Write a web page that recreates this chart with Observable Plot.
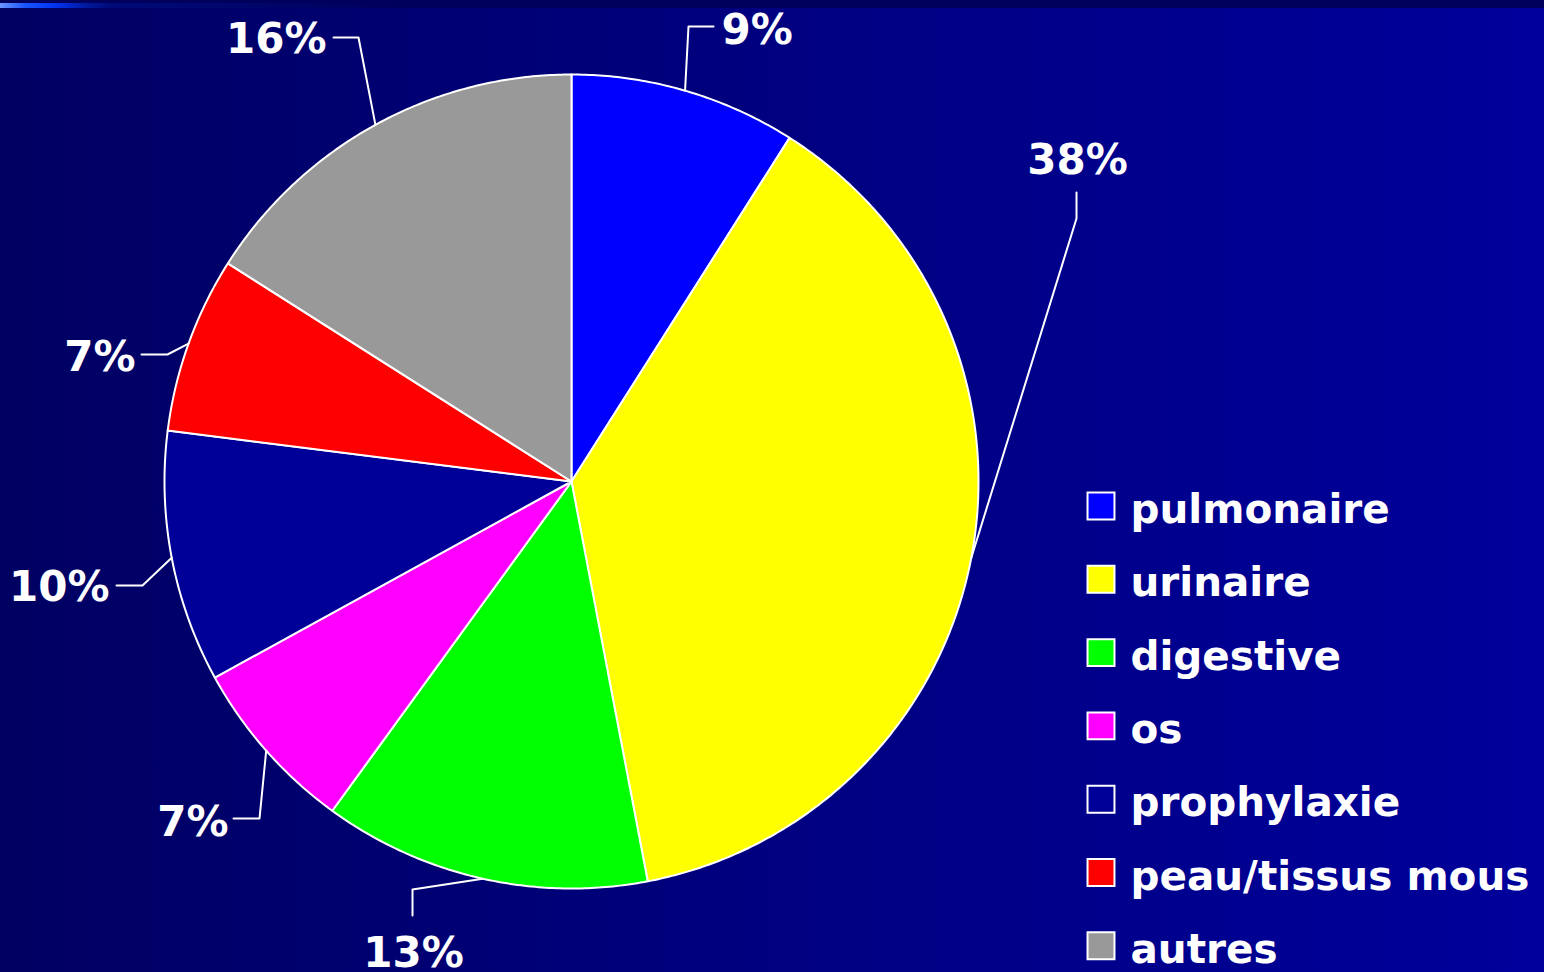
<!DOCTYPE html>
<html>
<head>
<meta charset="utf-8">
<script src="https://cdn.jsdelivr.net/npm/d3@7"></script>
<script src="https://cdn.jsdelivr.net/npm/@observablehq/plot@0.6"></script>
<style>
  html, body { margin: 0; padding: 0; }
  #frame {
    position: relative; width: 1544px; height: 972px; overflow: hidden;
    background: linear-gradient(to right, #000062 0%, #000080 50%, #00009b 100%);
  }
  #topbar {
    position: absolute; left: 0; top: 0; width: 1544px; height: 8px;
    background: #00005c;
  }
  #topbar-hi {
    position: absolute; left: 0; top: 3px; width: 1544px; height: 5px;
    background: linear-gradient(to right, #6a94ff 0px, #1a55ff 25px, #0033f0 55px, #001aa0 85px, #000a78 110px, #00005c 400px);
  }
  #chart { position: absolute; left: 0; top: 0; }
</style>
</head>
<body>
<div id="frame">
  <div id="chart"></div>
  <div id="topbar"></div>
  <div id="topbar-hi"></div>
</div>
<script>
// ---- data ----
const categories = ["pulmonaire", "urinaire", "digestive", "os", "prophylaxie", "peau/tissus mous", "autres"];
const values = [9, 38, 13, 7, 10, 7, 16];
const colors = ["#0000ff", "#ffff00", "#00ff00", "#ff00ff", "#000099", "#ff0000", "#999999"];
const labels = values.map(v => v + "%");

// ---- layout (pixels) ----
const W = 1544, H = 972;
const pie = {cx: 571, cy: 481, r: 407};
const leaderLayout = [
  {elbow: [688, 26],  end: [713, 26],  text: [721, 43],  anchor: "start"},
  {elbow: [1076, 218], end: [1076, 192], text: [1077, 173], anchor: "middle"},
  {elbow: [412, 889], end: [412, 915], text: [413, 966], anchor: "middle"},
  {elbow: [259, 818], end: [233, 818], text: [228, 835], anchor: "end"},
  {elbow: [142, 585], end: [116, 585], text: [109, 600], anchor: "end"},
  {elbow: [167, 354], end: [141, 354], text: [135, 370], anchor: "end"},
  {elbow: [358, 37],  end: [333, 37],  text: [326, 52],  anchor: "end"}
];
const legend = {x: 1100.5, y0: 505.5, dy: 73.3, textX: 1130, baseOff: 17};
const FONT = "'DejaVu Sans', Verdana, sans-serif";

// ---- derived ----
const arcs = d3.pie().sort(null).value(d => d)(values);
const pt = a => [pie.cx + pie.r * Math.sin(a), pie.cy - pie.r * Math.cos(a)];

const slicePts = [];
arcs.forEach((a, i) => {
  const n = Math.max(2, Math.ceil((a.endAngle - a.startAngle) / (Math.PI / 360)));
  slicePts.push({cat: categories[i], color: colors[i], x: pie.cx, y: pie.cy});
  for (let k = 0; k <= n; k++) {
    const t = a.startAngle + (a.endAngle - a.startAngle) * k / n;
    const [x, y] = pt(t);
    slicePts.push({cat: categories[i], color: colors[i], x, y});
  }
  slicePts.push({cat: categories[i], color: colors[i], x: pie.cx, y: pie.cy});
});

const leaderPts = [];
arcs.forEach((a, i) => {
  const [ex, ey] = pt((a.startAngle + a.endAngle) / 2);
  const L = leaderLayout[i];
  leaderPts.push({cat: categories[i], x: ex, y: ey});
  leaderPts.push({cat: categories[i], x: L.elbow[0], y: L.elbow[1]});
  leaderPts.push({cat: categories[i], x: L.end[0], y: L.end[1]});
});

const labelRows = labels.map((t, i) => ({t, x: leaderLayout[i].text[0], y: leaderLayout[i].text[1], anchor: leaderLayout[i].anchor}));
const legendRows = categories.map((c, i) => ({c, color: colors[i], x: legend.x, y: legend.y0 + i * legend.dy, tx: legend.textX, ty: legend.y0 + i * legend.dy + legend.baseOff}));

const plot = Plot.plot({
  width: W, height: H,
  margin: 0,
  x: {domain: [0, W], range: [0, W], axis: null},
  y: {domain: [0, H], range: [0, H], axis: null},
  color: {type: "identity"},
  style: {background: "transparent", overflow: "visible", fontFamily: FONT},
  marks: [
    Plot.line(slicePts, {x: "x", y: "y", z: "cat", fill: "color", stroke: "white", strokeWidth: 2, strokeLinejoin: "round", curve: "linear"}),
    Plot.line(leaderPts, {x: "x", y: "y", z: "cat", stroke: "white", strokeWidth: 2, curve: "linear"}),
    ...["start", "middle", "end"].map(anc =>
      Plot.text(labelRows.filter(d => d.anchor === anc), {x: "x", y: "y", text: "t", textAnchor: anc, lineAnchor: "bottom",
        fill: "white", fontSize: 42, fontWeight: "bold", fontFamily: FONT})
    ),
    Plot.dot(legendRows, {x: "x", y: "y", fill: "color", stroke: "white", strokeWidth: 2, symbol: "square", r: 15.2}),
    Plot.text(legendRows, {x: "tx", y: "ty", text: "c", textAnchor: "start", lineAnchor: "bottom",
      fill: "white", fontSize: 40.5, fontWeight: "bold", fontFamily: FONT})
  ]
});
document.getElementById("chart").appendChild(plot);
</script>
</body>
</html>
